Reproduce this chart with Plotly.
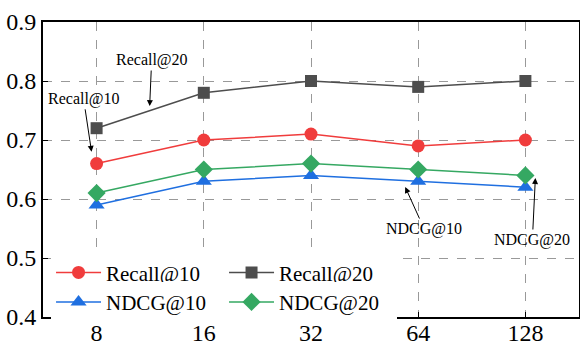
import plotly.graph_objects as go

categories = ["8", "16", "32", "64", "128"]
recall10 = [0.66, 0.70, 0.71, 0.69, 0.70]
recall20 = [0.72, 0.78, 0.80, 0.79, 0.80]
ndcg10 = [0.59, 0.63, 0.64, 0.63, 0.62]
ndcg20 = [0.61, 0.65, 0.66, 0.65, 0.64]
y_ticks = [0.4, 0.5, 0.6, 0.7, 0.8, 0.9]

FONT = "Liberation Serif"
series = [
    ("Recall@10", recall10, "#f03c3c", "circle", 13, "legend"),
    ("Recall@20", recall20, "#4d4d4d", "square", 12, "legend"),
    ("NDCG@10", ndcg10, "#1f6fe0", "triangle-up", 14, "legend2"),
    ("NDCG@20", ndcg20, "#35a862", "diamond", 14, "legend2"),
]

fig = go.Figure()
for name, vals, color, sym, size, leg in series:
    fig.add_trace(go.Scatter(
        x=categories, y=vals, name=name, mode="lines+markers",
        line=dict(color=color, width=1.5),
        marker=dict(symbol=sym, size=size, color=color),
        legend=leg,
    ))

annotations = [
    dict(x=0.495, y=0.7576, text="Recall@20", ax=2, ay=-46),
    dict(x=-0.047, y=0.680, text="Recall@10", ax=-8, ay=-53),
    dict(x=2.879, y=0.6203, text="NDCG@10", ax=19, ay=42),
    dict(x=4.093, y=0.6356, text="NDCG@20", ax=-3, ay=62),
]
for a in annotations:
    fig.add_annotation(
        x=a["x"], y=a["y"], xref="x", yref="y", text=a["text"],
        ax=a["ax"], ay=a["ay"], showarrow=True, arrowhead=2, arrowsize=1.2,
        arrowwidth=1, arrowcolor="black",
        font=dict(family=FONT, size=16, color="black"),
    )

leg_common = dict(
    orientation="h", xanchor="left", yanchor="middle",
    bgcolor="white", borderwidth=0,
    font=dict(family=FONT, size=21, color="black"),
    entrywidth=113, entrywidthmode="pixels", itemwidth=45,
    tracegroupgap=0,
)

fig.update_layout(
    width=580, height=343,
    margin=dict(l=43, r=1, t=22, b=26),
    paper_bgcolor="white", plot_bgcolor="white",
    font=dict(family=FONT, size=20, color="black"),
    showlegend=True,
    legend=dict(x=0.015, y=0.15, **leg_common),
    legend2=dict(x=0.015, y=0.05, **leg_common),
    xaxis=dict(
        type="category", range=[-0.5, 4.5], automargin=False,
        showgrid=True, gridcolor="#999999", griddash="dash", gridwidth=1,
        showline=True, linecolor="black", linewidth=2, mirror=True,
        ticks="inside", ticklen=5, tickcolor="black",
        tickfont=dict(family=FONT, size=24, color="black"),
        ticklabelstandoff=-7,
        zeroline=False,
    ),
    yaxis=dict(
        range=[0.4, 0.9], tickvals=y_ticks, ticktext=[f"{v:.1f}" for v in y_ticks],
        automargin=False,
        showgrid=True, gridcolor="#999999", griddash="dash", gridwidth=1,
        showline=True, linecolor="black", linewidth=2, mirror=True,
        ticks="inside", ticklen=5, tickcolor="black",
        tickfont=dict(family=FONT, size=24, color="black"),
        zeroline=False,
    ),
)

fig.write_html("out.html", config={"displayModeBar": False},
               post_script="document.body.style.margin='0px';")
